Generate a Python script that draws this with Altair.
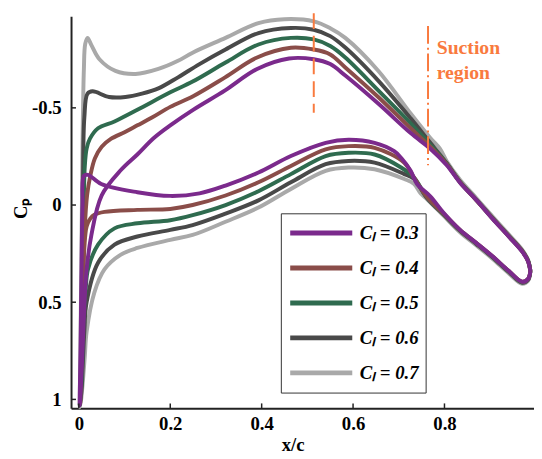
import altair as alt
import pandas as pd

# ---------------- data ----------------
cl_labels = ["Cₗ = 0.3", "Cₗ = 0.4", "Cₗ = 0.5", "Cₗ = 0.6", "Cₗ = 0.7"]
colors = ["#7B2A8C", "#8A4D49", "#2F6B4F", "#494949", "#A9A9A9"]

tip_x, tip_cp = 0.988, 0.34

# Cl = 0.3
c3_up_x = [0.004, 0.008, 0.012, 0.017, 0.027, 0.05, 0.092, 0.128, 0.164, 0.2, 0.25, 0.32, 0.39, 0.46, 0.514, 0.55, 0.583, 0.655, 0.726, 0.769, 0.805, 0.834, 0.87, 0.905, 0.941, 0.97, 0.983]
c3_up_cp = [0.95, 0.75, 0.52, 0.33, 0.16, -0.05, -0.18, -0.26, -0.345, -0.41, -0.49, -0.59, -0.70, -0.754, -0.75, -0.725, -0.666, -0.522, -0.37, -0.29, -0.205, -0.115, -0.025, 0.07, 0.163, 0.24, 0.29]
c3_lo_x = [0.002, 0.004, 0.006, 0.008, 0.011, 0.02, 0.049, 0.128, 0.2, 0.264, 0.321, 0.393, 0.464, 0.54, 0.59, 0.647, 0.69, 0.705, 0.726, 0.74, 0.769, 0.798, 0.834, 0.87, 0.905, 0.941, 0.97, 0.983]
c3_lo_cp = [1.03, 0.7, 0.3, 0.0, -0.15, -0.155, -0.108, -0.066, -0.047, -0.06, -0.10, -0.167, -0.252, -0.32, -0.336, -0.32, -0.277, -0.243, -0.176, -0.108, -0.045, 0.04, 0.128, 0.196, 0.264, 0.34, 0.395, 0.38]

# Cl = 0.4
c4_up_x = [0.003, 0.006, 0.01, 0.013, 0.018, 0.025, 0.035, 0.05, 0.07, 0.1, 0.128, 0.16, 0.2, 0.25, 0.32, 0.39, 0.464, 0.514, 0.55, 0.583, 0.655, 0.726, 0.769, 0.805, 0.834, 0.87, 0.905, 0.941, 0.97, 0.983]
c4_up_cp = [1.0, 0.8, 0.4, 0.12, -0.05, -0.15, -0.24, -0.30, -0.34, -0.375, -0.41, -0.45, -0.505, -0.56, -0.657, -0.759, -0.809, -0.80, -0.775, -0.708, -0.556, -0.395, -0.30, -0.21, -0.117, -0.024, 0.069, 0.162, 0.238, 0.289]
c4_lo_x = [0.003, 0.006, 0.009, 0.012, 0.017, 0.025, 0.034, 0.056, 0.128, 0.2, 0.249, 0.321, 0.393, 0.464, 0.54, 0.59, 0.647, 0.712, 0.733, 0.762, 0.798, 0.834, 0.87, 0.905, 0.941, 0.97, 0.983]
c4_lo_cp = [1.02, 0.7, 0.4, 0.22, 0.11, 0.07, 0.05, 0.035, 0.025, 0.02, 0.0, -0.049, -0.117, -0.201, -0.286, -0.303, -0.294, -0.218, -0.142, -0.04, 0.044, 0.128, 0.196, 0.264, 0.34, 0.395, 0.38]

# Cl = 0.5
c5_up_x = [0.003, 0.007, 0.01, 0.013, 0.017, 0.024, 0.042, 0.078, 0.128, 0.2, 0.249, 0.321, 0.393, 0.464, 0.514, 0.55, 0.583, 0.655, 0.726, 0.769, 0.805, 0.834, 0.87, 0.905, 0.941, 0.97, 0.983]
c5_up_cp = [1.0, 0.6, 0.1, -0.2, -0.29, -0.34, -0.395, -0.43, -0.49, -0.58, -0.635, -0.733, -0.826, -0.86, -0.852, -0.818, -0.759, -0.59, -0.42, -0.31, -0.212, -0.118, -0.025, 0.068, 0.161, 0.237, 0.288]
c5_lo_x = [0.002, 0.006, 0.01, 0.015, 0.02, 0.042, 0.078, 0.128, 0.2, 0.249, 0.321, 0.393, 0.464, 0.54, 0.59, 0.647, 0.705, 0.733, 0.762, 0.798, 0.834, 0.87, 0.905, 0.941, 0.97, 0.983]
c5_lo_cp = [1.03, 0.9, 0.6, 0.43, 0.33, 0.204, 0.12, 0.094, 0.078, 0.052, 0.0, -0.071, -0.159, -0.252, -0.269, -0.26, -0.193, -0.142, -0.038, 0.046, 0.13, 0.198, 0.266, 0.342, 0.397, 0.382]

# Cl = 0.6
c6_up_x = [0.003, 0.006, 0.009, 0.012, 0.019, 0.03, 0.066, 0.102, 0.138, 0.174, 0.217, 0.264, 0.321, 0.393, 0.464, 0.514, 0.55, 0.583, 0.655, 0.726, 0.769, 0.805, 0.834, 0.87, 0.905, 0.941, 0.97, 0.983]
c6_up_cp = [1.0, 0.5, -0.1, -0.45, -0.573, -0.585, -0.556, -0.556, -0.573, -0.60, -0.657, -0.725, -0.80, -0.885, -0.911, -0.902, -0.869, -0.81, -0.64, -0.446, -0.32, -0.215, -0.12, -0.027, 0.066, 0.159, 0.235, 0.286]
c6_lo_x = [0.002, 0.006, 0.009, 0.012, 0.017, 0.042, 0.078, 0.128, 0.2, 0.249, 0.321, 0.393, 0.464, 0.54, 0.59, 0.647, 0.712, 0.733, 0.762, 0.798, 0.834, 0.87, 0.905, 0.941, 0.97, 0.983]
c6_lo_cp = [1.03, 0.95, 0.8, 0.65, 0.5, 0.297, 0.204, 0.162, 0.128, 0.103, 0.044, -0.024, -0.117, -0.21, -0.227, -0.218, -0.159, -0.135, -0.035, 0.049, 0.133, 0.201, 0.269, 0.345, 0.4, 0.385]

# Cl = 0.7
c7_up_x = [0.002, 0.005, 0.008, 0.011, 0.014, 0.019, 0.028, 0.045, 0.08, 0.124, 0.174, 0.217, 0.249, 0.321, 0.393, 0.45, 0.514, 0.55, 0.583, 0.655, 0.726, 0.769, 0.79, 0.805, 0.834, 0.87, 0.905, 0.941, 0.97, 0.983]
c7_up_cp = [1.0, 0.4, -0.3, -0.7, -0.83, -0.86, -0.82, -0.75, -0.69, -0.674, -0.70, -0.742, -0.784, -0.86, -0.936, -0.956, -0.945, -0.91, -0.86, -0.691, -0.471, -0.345, -0.29, -0.225, -0.13, -0.035, 0.058, 0.152, 0.23, 0.283]
c7_lo_x = [0.002, 0.005, 0.009, 0.013, 0.017, 0.034, 0.056, 0.092, 0.128, 0.2, 0.249, 0.321, 0.393, 0.464, 0.54, 0.59, 0.647, 0.712, 0.733, 0.748, 0.762, 0.798, 0.834, 0.87, 0.905, 0.941, 0.97, 0.983]
c7_lo_cp = [1.04, 1.0, 0.9, 0.78, 0.652, 0.449, 0.331, 0.255, 0.221, 0.179, 0.154, 0.086, 0.013, -0.083, -0.176, -0.193, -0.184, -0.134, -0.11, -0.06, -0.03, 0.055, 0.14, 0.208, 0.276, 0.352, 0.405, 0.39]

series = [
    (c3_up_x, c3_up_cp, c3_lo_x, c3_lo_cp),
    (c4_up_x, c4_up_cp, c4_lo_x, c4_lo_cp),
    (c5_up_x, c5_up_cp, c5_lo_x, c5_lo_cp),
    (c6_up_x, c6_up_cp, c6_lo_x, c6_lo_cp),
    (c7_up_x, c7_up_cp, c7_lo_x, c7_lo_cp),
]

# annotation data
rule_x = [0.514, 0.764]
rule_top = [-0.987, -0.921]
rule_bottom = [-0.475, -0.205]
note_text = ["Suction", "region"]
note_x = [0.783, 0.783]
note_cp = [-0.776, -0.649]
xtick_vals = [0, 0.2, 0.4, 0.6, 0.8]
ytick_vals = [-0.5, 0, 0.5, 1]

# ---------------- build ----------------
W, H = 470, 398
SERIF = "Liberation Serif"
ORANGE = "#F97A3E"

xscale = alt.Scale(domain=[-0.0171, 0.9959], nice=False, zero=False)
yscale = alt.Scale(domain=[-0.971, 1.046], nice=False, zero=False, reverse=True)

color_enc = alt.Color(
    "cl:N",
    scale=alt.Scale(domain=cl_labels, range=colors),
    legend=alt.Legend(
        title=None, orient="none", legendX=213, legendY=200,
        symbolType="stroke", symbolSize=3969, symbolStrokeWidth=5,
        labelFont=SERIF, labelFontSize=19, labelFontStyle="italic", labelFontWeight="bold",
        labelColor="black", labelOffset=5, clipHeight=26, rowPadding=9.5,
        padding=7, strokeColor="#333333", fillColor="white",
    ),
)

layers = []
for k in range(4, -1, -1):
    ux, ucp, lx, lcp = series[k]
    xs = [tip_x] + ux[::-1] + lx + [tip_x]
    cps = [tip_cp] + ucp[::-1] + lcp + [tip_cp]
    df = pd.DataFrame({"x": xs, "cp": cps, "i": range(len(xs)), "cl": cl_labels[k]})
    layers.append(
        alt.Chart(df).mark_line(strokeWidth=4, interpolate="catmull-rom", strokeJoin="round").encode(
            x=alt.X("x:Q", scale=xscale, axis=alt.Axis(
                values=xtick_vals, labelExpr="'' + datum.value", ticks=False, tickSize=0,
                labelFont=SERIF, labelFontSize=19, labelFontWeight="bold", labelColor="black",
                labelPadding=6, domainColor="#222222", domainWidth=2, grid=False,
                title="x/c", titleFont=SERIF, titleFontSize=19, titleFontWeight="bold",
                titleColor="black", titleX=225, titleY=43, titleAlign="center",
                titleBaseline="alphabetic")),
            y=alt.Y("cp:Q", scale=yscale, axis=alt.Axis(
                values=ytick_vals, labelExpr="'' + datum.value", ticks=False, tickSize=0,
                labelFont=SERIF, labelFontSize=19, labelFontWeight="bold", labelColor="black",
                labelPadding=10, domainColor="#222222", domainWidth=2, grid=False,
                title="Cₚ", titleFont=SERIF, titleFontSize=19, titleFontWeight="bold",
                titleColor="black", titleAngle=270, titleX=-45, titleY=195,
                titleAlign="center", titleBaseline="alphabetic")),
            order=alt.Order("i:Q"),
            color=color_enc,
        )
    )

rdf = pd.DataFrame({"x": rule_x, "top": rule_top, "bot": rule_bottom})
rule1 = alt.Chart(rdf.iloc[[0]]).mark_rule(color=ORANGE, strokeWidth=2, strokeDash=[16, 7]).encode(
    x=alt.X("x:Q", scale=xscale), y=alt.Y("top:Q", scale=yscale), y2="bot:Q")
rule2 = alt.Chart(rdf.iloc[[1]]).mark_rule(color=ORANGE, strokeWidth=2, strokeDash=[18, 4, 2, 4]).encode(
    x=alt.X("x:Q", scale=xscale), y=alt.Y("top:Q", scale=yscale), y2="bot:Q")

tdf = pd.DataFrame({"t": note_text, "x": note_x, "cp": note_cp})
note = alt.Chart(tdf).mark_text(align="left", baseline="alphabetic", font=SERIF, fontSize=20,
                                fontWeight="bold", color=ORANGE).encode(
    x=alt.X("x:Q", scale=xscale), y=alt.Y("cp:Q", scale=yscale), text="t:N")

xt = alt.Chart(pd.DataFrame({"v": xtick_vals})).mark_rule(color="#222222", strokeWidth=1.5).encode(
    x=alt.X("v:Q", scale=xscale), y=alt.value(H), y2=alt.value(H - 5))
yt = alt.Chart(pd.DataFrame({"v": ytick_vals})).mark_rule(color="#222222", strokeWidth=1.5).encode(
    y=alt.Y("v:Q", scale=yscale), x=alt.value(0), x2=alt.value(5))

chart = alt.layer(*layers, rule1, rule2, note, xt, yt).properties(
    width=W, height=H,
    autosize=alt.AutoSizeParams(type="none"),
    padding={"left": 64, "top": 5, "right": 0, "bottom": 48},
    background="white",
).configure_view(stroke=None)

chart.save("out.html", embed_options={"renderer": "svg", "actions": False})
